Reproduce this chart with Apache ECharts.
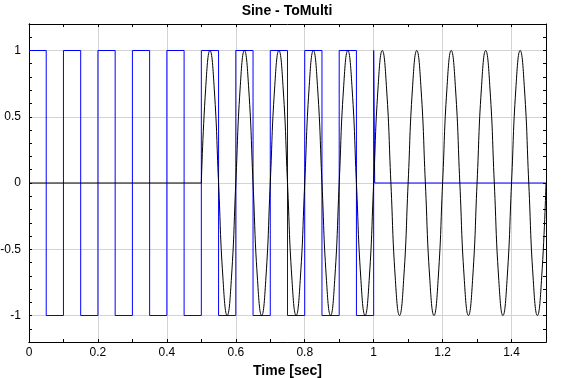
<!DOCTYPE html>
<html>
<head>
<meta charset="utf-8">
<script src="https://cdn.jsdelivr.net/npm/echarts@6/dist/echarts.min.js"></script>
<style>
  html, body { margin: 0; padding: 0; background: #fff; }
  #main { width: 561px; height: 378px; }
</style>
</head>
<body>
<div id="main"></div>
<script>
// 初始化图表
var myChart = echarts.init(document.getElementById('main'));

var font = 'Liberation Sans, Arial, sans-serif';

// 方波 (蓝色): 跳变时刻和对应值
var squareTime  = [0, 0.05, 0.1, 0.15, 0.2, 0.25, 0.3, 0.35, 0.4, 0.45,
                   0.5, 0.55, 0.6, 0.65, 0.7, 0.75, 0.8, 0.85, 0.9, 0.95,
                   1.0, 1.003, 1.5];
var squareValue = [1, -1, 1, -1, 1, -1, 1, -1, 1, -1,
                   1, -1, 1, -1, 1, -1, 1, -1, 1, -1,
                   1, 0, 0];

// 黑线: 0 ~ 0.5 s 为零
var zeroTime  = [0, 0.5];
var zeroValue = [0, 0];

// 黑线: 0.5 s 之后的正弦 (每 0.0125 s 读一个点)
var sineStart = 0.5;
var sineStep = 0.0125;
var sineValue = [
  0, 0.71, 1, 0.71, 0, -0.71, -1, -0.71,
  0, 0.71, 1, 0.71, 0, -0.71, -1, -0.71,
  0, 0.71, 1, 0.71, 0, -0.71, -1, -0.71,
  0, 0.71, 1, 0.71, 0, -0.71, -1, -0.71,
  0, 0.71, 1, 0.71, 0, -0.71, -1, -0.71,
  0, 0.71, 1, 0.71, 0, -0.71, -1, -0.71,
  0, 0.71, 1, 0.71, 0, -0.71, -1, -0.71,
  0, 0.71, 1, 0.71, 0, -0.71, -1, -0.71,
  0, 0.71, 1, 0.71, 0, -0.71, -1, -0.71,
  0, 0.71, 1, 0.71, 0, -0.71, -1, -0.71,
  0
];

// 坐标轴刻度
var xTickLabels = [0, 0.2, 0.4, 0.6, 0.8, 1, 1.2, 1.4];
var yTickLabels = [-1, -0.5, 0, 0.5, 1];

function pairs(xs, ys) {
    return ys.map(function (v, i) { return [xs[i], v]; });
}
var sineData = sineValue.map(function (v, i) {
    return [+(sineStart + i * sineStep).toFixed(4), v];
});

// 只画刻度的辅助轴
function tickAxis(pos, min, max) {
    return {
        type: 'value', position: pos, min: min, max: max, interval: 0.1,
        axisLine: { show: true, onZero: false, lineStyle: { color: '#000', width: 1 } },
        axisTick: { show: true, inside: true, length: 3, lineStyle: { color: '#000' } },
        axisLabel: { show: false },
        splitLine: { show: false }
    };
}

myChart.setOption({
    animation: false,
    backgroundColor: '#fff',
    title: {
        text: 'Sine - ToMulti',
        left: 287,
        textAlign: 'center',
        top: 4,
        padding: 0,
        textStyle: { color: '#000', fontSize: 14, fontWeight: 'bold', fontFamily: font }
    },
    grid: { left: 29, right: 15, top: 24, bottom: 36, outerBoundsMode: 'none', containLabel: false },
    xAxis: [{
        type: 'value',
        min: 0, max: 1.5, interval: 0.2,
        name: 'Time [sec]',
        nameLocation: 'middle',
        nameGap: 19,
        nameTextStyle: { color: '#000', fontSize: 14, fontWeight: 'bold', fontFamily: font },
        axisLine: { show: true, onZero: false, lineStyle: { color: '#000' } },
        axisTick: { show: false },
        axisLabel: {
            color: '#000', fontSize: 12, fontFamily: font, margin: 5,
            showMaxLabel: false,
            formatter: function (v) { return xTickLabels.indexOf(+v.toFixed(2)) >= 0 ? String(+v.toFixed(2)) : ''; }
        },
        splitLine: { show: true, lineStyle: { color: '#d3d3d3', width: 1 } }
    },
    tickAxis('bottom', 0, 1.5),
    tickAxis('top', 0, 1.5)
    ],
    yAxis: [{
        type: 'value',
        min: -1.2, max: 1.2,
        axisLine: { show: true, onZero: false, lineStyle: { color: '#000' } },
        axisTick: { show: false },
        axisLabel: {
            color: '#000', fontSize: 12, fontFamily: font, margin: 8,
            showMinLabel: false, showMaxLabel: false,
            formatter: function (v) { return yTickLabels.indexOf(+v.toFixed(2)) >= 0 ? String(+v.toFixed(2)) : ''; }
        },
        splitLine: { show: true, lineStyle: { color: '#d3d3d3', width: 1 } }
    },
    tickAxis('left', -1.2, 1.2),
    tickAxis('right', -1.2, 1.2)
    ],
    series: [{
        name: 'square',
        type: 'line',
        step: 'end',
        showSymbol: false,
        lineStyle: { color: '#0000ff', width: 1 },
        data: pairs(squareTime, squareValue)
    }, {
        name: 'zero',
        type: 'line',
        showSymbol: false,
        lineStyle: { color: '#000', width: 1 },
        data: pairs(zeroTime, zeroValue)
    }, {
        name: 'sine',
        type: 'line',
        smooth: true,
        showSymbol: false,
        lineStyle: { color: '#000', width: 1 },
        data: sineData
    }]
});
</script>
</body>
</html>
